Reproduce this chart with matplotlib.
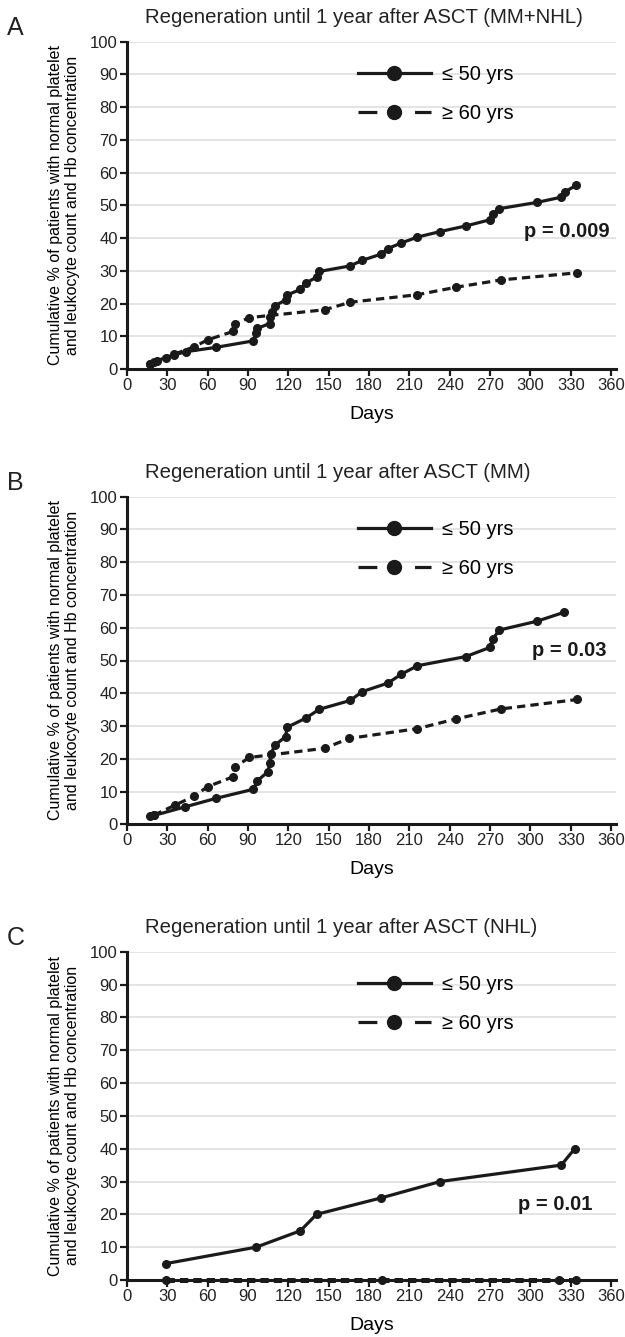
import matplotlib
matplotlib.use('Agg')
import matplotlib.pyplot as plt
from matplotlib.lines import Line2D

plt.rcParams['font.family'] = ['Liberation Sans', 'DejaVu Sans']

# 패널 A (MM+NHL)
a_young_days = [17, 20, 29, 35, 44, 66, 94, 96, 97, 106, 106.5, 108, 110, 118, 119, 129, 133, 141, 143,
                166, 175, 189, 194, 204, 216, 233, 252, 270, 272, 277, 305, 323, 326, 334]
a_young_vals = [1.5, 2.2, 3.5, 4.3, 5.3, 6.6, 8.6, 10.9, 12.4, 13.9, 15.9, 17.5, 19.3, 21.1, 22.6, 24.3, 26.2, 28.1, 29.8,
                31.5, 33.2, 35.1, 36.8, 38.5, 40.3, 42.0, 43.7, 45.6, 47.3, 49.0, 50.9, 52.5, 54.2, 56.1]
a_old_days = [17, 22, 35, 50, 60, 79, 80, 91, 147, 166, 216, 245, 278, 335]
a_old_vals = [1.5, 2.5, 4.5, 6.8, 8.9, 11.5, 13.7, 15.7, 18.1, 20.4, 22.7, 25.0, 27.2, 29.4]

# 패널 B (MM)
b_young_days = [17, 20, 43, 66, 94, 97, 105, 106, 107, 110, 118, 119, 133, 143, 166, 175, 194, 204, 216,
                252, 270, 272, 277, 305, 325]
b_young_vals = [2.5, 2.7, 5.3, 7.9, 10.7, 13.3, 16.1, 18.6, 21.5, 24.1, 26.8, 29.6, 32.4, 35.1, 37.8, 40.5, 43.1, 45.8, 48.4,
                51.2, 54.0, 56.6, 59.3, 62.0, 64.7]
b_old_days = [20, 36, 50, 60, 79, 80, 91, 147, 165, 216, 245, 278, 335]
b_old_vals = [2.8, 5.9, 8.6, 11.5, 14.5, 17.4, 20.4, 23.2, 26.2, 29.2, 32.2, 35.2, 38.1]

# 패널 C (NHL)
c_young_days = [29, 96, 129, 141, 189, 233, 323, 333]
c_young_vals = [5, 10, 15, 20, 25, 30, 35, 40]
c_old_days = [29, 190, 321, 334]
c_old_vals = [0, 0, 0, 0]

panels = [
    ('A', 'Regeneration until 1 year after ASCT (MM+NHL)', a_young_days, a_young_vals, a_old_days, a_old_vals, 'p = 0.009', 42),
    ('B', 'Regeneration until 1 year after ASCT (MM)', b_young_days, b_young_vals, b_old_days, b_old_vals, 'p = 0.03', 53.2),
    ('C', 'Regeneration until 1 year after ASCT (NHL)', c_young_days, c_young_vals, c_old_days, c_old_vals, 'p = 0.01', 22.9),
]
p_right = [359, 357, 346]

W, H = 625, 1337
fig = plt.figure(figsize=(W / 100, H / 100), dpi=100)

# 축 위치 (픽셀: y=100 위치, y=0 위치)
ax_px = [(41.7, 369), (496.7, 824.3), (951.7, 1280)]
left_px, right_px = 127, 616
black = '#1a1a1a'

for i, (letter, title, yd, yv, od, ov, ptxt, py) in enumerate(panels):
    top, bot = ax_px[i]
    ax = fig.add_axes([left_px / W, 1 - bot / H, (right_px - left_px) / W, (bot - top) / H])
    ax.set_xlim(0, 363.7)
    ax.set_ylim(0, 100)
    ax.set_xticks(range(0, 361, 30))
    ax.set_yticks(range(0, 101, 10))
    ax.yaxis.grid(True, color='#dcdcdc', lw=1.1)
    ax.set_axisbelow(True)
    for s in ['top', 'right']:
        ax.spines[s].set_visible(False)
    for s in ['left', 'bottom']:
        ax.spines[s].set_linewidth(2.2)
        ax.spines[s].set_color(black)
    ax.tick_params(direction='out', length=5, width=1.6, color=black, labelsize=12, pad=1.5, labelcolor='#222222')

    old_lw = 3.6 if letter == 'C' else 2.3
    ax.plot(yd, yv, '-', color=black, lw=2.3, marker='o', ms=5.5, clip_on=False, zorder=4)
    ax.plot(od, ov, color=black, lw=old_lw, ls=(0, (2.6 * 2.3 / old_lw, 1.6 * 2.3 / old_lw)),
            marker='o', ms=5.5, clip_on=False, zorder=3)

    ax.set_xlabel('Days', fontsize=14, labelpad=9)
    ax.set_ylabel('Cumulative % of patients with normal platelet\nand leukocyte count and Hb concentration',
                  fontsize=11.5, labelpad=7, linespacing=1.2)

    ax.text(p_right[i], py, ptxt, ha='right', va='center', fontsize=14.5, fontweight='bold', color=black)

    h1 = Line2D([], [], color=black, lw=2.3, marker='o', ms=10)
    h2 = Line2D([], [], color=black, lw=2.3, ls=(0, (5.9, 11.8)), marker='o', ms=10)
    ax.legend([h1, h2], ['\u2264 50 yrs', '\u2265 60 yrs'], loc='upper left', bbox_to_anchor=(0.452, 0.96),
              frameon=False, fontsize=14.5, handlelength=3.6, handletextpad=0.55, labelspacing=1.0, borderpad=0)

    fig.text(145 / W, 1 - (top - 24) / H, title, ha='left', va='center', fontsize=14.7, color='#222222')
    fig.text(7 / W, 1 - (top - 14) / H, letter, ha='left', va='center', fontsize=18, color='#222222')

fig.savefig('out.png', dpi=100)
